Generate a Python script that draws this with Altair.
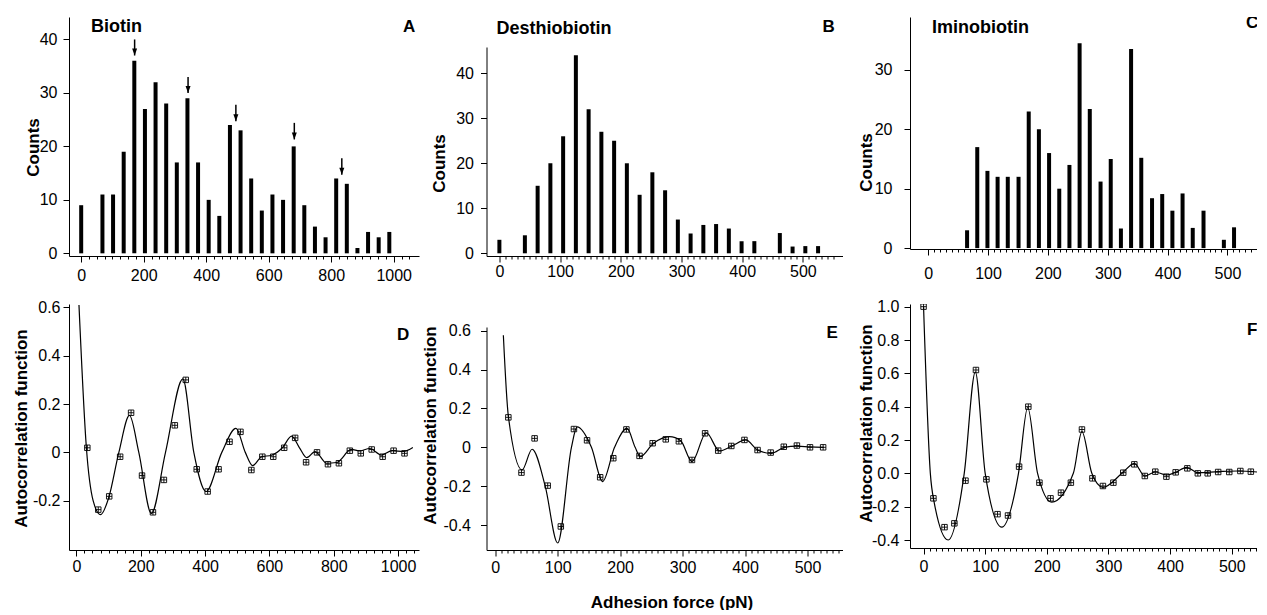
import altair as alt
import pandas as pd

FONT = "Liberation Sans"

# ---------------- text ----------------
panel_titles = ["Biotin", "Desthiobiotin", "Iminobiotin"]
panel_letters = ["A", "B", "C", "D", "E", "F"]
y_title_hist = "Counts"
y_title_acf = "Autocorrelation function"
x_title = "Adhesion force (pN)"

# ---------------- tick values ----------------
ticks_1000 = [0, 200, 400, 600, 800, 1000]
ticks_500 = [0, 100, 200, 300, 400, 500]
ticks_counts_40 = [0, 10, 20, 30, 40]
ticks_counts_30 = [0, 10, 20, 30]
ticks_acf_d = [-0.2, 0.0, 0.2, 0.4, 0.6]
ticks_acf_e = [-0.4, -0.2, 0.0, 0.2, 0.4, 0.6]
ticks_acf_f = [-0.4, -0.2, 0.0, 0.2, 0.4, 0.6, 0.8, 1.0]

# ---------------- histograms ----------------
biotin_force = [0, 68, 102, 136, 170, 204, 238, 272, 306, 340, 374, 408, 442, 476, 510,
                544, 578, 612, 646, 680, 714, 748, 782, 816, 850, 884, 918, 952, 986]
biotin_counts = [9, 11, 11, 19, 36, 27, 32, 28, 17, 29, 17, 10, 7, 24, 23,
                 14, 8, 11, 10, 20, 9, 5, 3, 14, 13, 1, 4, 3, 4]

arrow_force = [171, 342, 495, 682, 834]
arrow_tip = [37.0, 30.0, 24.7, 21.3, 14.7]
arrow_tail = [40.0, 33.0, 27.8, 24.4, 17.8]

desthio_force = [0, 42, 63, 84, 105, 126, 147, 168, 189, 210, 231, 252, 273, 294, 315,
                 336, 357, 378, 399, 420, 462, 483, 504, 525]
desthio_counts = [3, 4, 15, 20, 26, 44, 32, 27, 25, 20, 13, 18, 14, 7.5, 4.4,
                  6.3, 6.5, 5.5, 2.7, 2.7, 4.5, 1.5, 1.6, 1.6]

imino_force = [65, 82, 99, 116, 133, 151, 168, 185, 202, 219, 236, 253, 270, 288, 305,
               322, 339, 356, 374, 391, 408, 425, 442, 460, 494, 511]
imino_counts = [3, 17, 13, 12, 12, 12, 23, 20, 16, 10, 14, 34.5, 23.4, 11.2, 15,
                3.3, 33.5, 15.2, 8.4, 9.1, 6.3, 9.2, 3.4, 6.3, 1.4, 3.5]

# ---------------- autocorrelation points ----------------
acf_b_lag = [34, 68, 102, 136, 170, 204, 238, 272, 306, 340, 374, 408, 442, 476, 510,
             544, 578, 612, 646, 680, 714, 748, 782, 816, 850, 884, 918, 952, 986, 1020]
acf_b_val = [0.019, -0.237, -0.182, -0.018, 0.164, -0.096, -0.248, -0.114, 0.112, 0.30,
             -0.07, -0.162, -0.07, 0.044, 0.085, -0.073, -0.018, -0.018, 0.019, 0.06,
             -0.041, 0.0, -0.049, -0.045, 0.007, -0.004, 0.012, -0.018, 0.007, -0.004]

acf_d_lag = [21, 42, 63, 84, 105, 126, 147, 168, 189, 210, 231, 252, 273, 294, 315,
             336, 357, 378, 399, 420, 441, 462, 483, 504, 525]
acf_d_val = [0.154, -0.13, 0.046, -0.197, -0.407, 0.094, 0.036, -0.154, -0.056, 0.092,
             -0.044, 0.021, 0.041, 0.031, -0.065, 0.072, -0.017, 0.007, 0.038, -0.014,
             -0.027, 0.003, 0.009, 0.0, 0.0]

acf_i_lag = [0, 16, 34, 50, 68, 85, 102, 120, 137, 155, 170, 188, 206, 223, 239, 257,
             274, 291, 308, 324, 342, 359, 376, 394, 409, 428, 445, 461, 478, 496, 514, 531, 548]
acf_i_val = [1.0, -0.15, -0.323, -0.30, -0.044, 0.62, -0.036, -0.245, -0.253, 0.04, 0.40,
             -0.056, -0.15, -0.116, -0.056, 0.263, -0.03, -0.076, -0.056, 0.004, 0.054,
             -0.016, 0.01, -0.02, 0.006, 0.03, 0.0, 0.0, 0.008, 0.008, 0.014, 0.01, 0.0]

# ---------------- fitted curves ----------------
fit_b_x = [8, 31, 52, 75, 100, 132, 165, 194, 233, 277, 331, 365, 403, 452, 496, 525, 548,
           576, 607, 641, 669, 693, 716, 742, 778, 809, 855, 879, 912, 948, 982, 1017, 1046]
fit_b_y = [0.61, 0.02, -0.20, -0.258, -0.19, 0.0, 0.153, 0.0, -0.253, 0.0, 0.304, 0.0,
           -0.162, 0.0, 0.099, 0.0, -0.055, -0.018, -0.012, 0.02, 0.067, 0.02, -0.022,
           0.003, -0.045, -0.042, 0.012, 0.006, 0.016, -0.011, 0.007, 0.004, 0.02]

fit_d_x = [13, 21, 43, 59, 80, 100, 122, 131, 154, 172, 191, 211, 224, 232, 253, 279, 297,
           315, 338, 359, 379, 401, 420, 442, 463, 483, 504, 526]
fit_d_y = [0.576, 0.16, -0.116, -0.01, -0.2, -0.492, 0.0, 0.105, 0.0, -0.176, 0.0, 0.097,
           0.0, -0.048, 0.02, 0.055, 0.034, -0.073, 0.075, -0.019, 0.007, 0.038, -0.014,
           -0.031, 0.0, 0.006, 0.002, 0.0]

fit_i_x = [0, 11, 17, 40, 66, 84, 100, 127, 154, 169, 185, 208, 243, 257, 273, 291, 322,
           342, 359, 376, 394, 409, 427, 445, 478, 510, 541]
fit_i_y = [1.0, 0.0, -0.17, -0.40, 0.0, 0.608, 0.0, -0.323, 0.0, 0.395, 0.0, -0.173, 0.0,
           0.25, 0.0, -0.084, 0.0, 0.06, -0.016, 0.008, -0.01, 0.006, 0.036, 0.004, 0.01,
           0.014, 0.008]

SQUARE_CROSS = "M-1,-1L1,-1L1,1L-1,1Z M0,-1L0,1 M-1,0L1,0"
ARROW_HEAD = "M-1,-2.8L1,-2.8L0,0Z"
MINUS_FIX = "replace(format(datum.value, '.1f'), '\u2212', '-')"


def x_axis(major_ticks, minor_step, upper, pad, **extra):
    step = major_ticks[1] - major_ticks[0]
    vals = list(range(0, upper + 1, minor_step))
    kw = dict(
        values=vals,
        format="d",
        labelExpr=f"datum.value % {step} === 0 ? datum.label : ''",
        tickSize={"condition": {"test": f"datum.value % {step} === 0", "value": 6}, "value": 3},
        labelPadding=pad,
        labelOverlap=False,
        labelFlush=False,
    )
    kw.update(extra)
    if "title" not in kw:
        kw["title"] = None
    return alt.Axis(**kw)


def y_axis(vals, pad, title, tx, ty, expr=None, dash=None):
    kw = dict(values=vals, labelPadding=pad, tickSize=6, title=title, titleX=tx, titleY=ty,
              titleAngle=270, titleAlign="center", titleBaseline="alphabetic",
              labelOverlap=False, labelFlush=False)
    if expr:
        kw["labelExpr"] = expr
    if dash:
        kw["domainDash"] = dash
    return alt.Axis(**kw)


def text_layer(text, x, y, size=17, clip=False):
    return alt.Chart(pd.DataFrame({"t": [text]})).mark_text(
        align="left", baseline="alphabetic", font=FONT, fontSize=size,
        fontWeight="bold", color="black", clip=clip
    ).encode(text="t:N", x=alt.value(x), y=alt.value(y))


def hist_panel(force, counts, xdom, ydom, xax, yax, w, h, texts, extra=()):
    df = pd.DataFrame({"force": force, "counts": counts})
    xs = alt.Scale(domain=xdom, nice=False, zero=False)
    ys = alt.Scale(domain=ydom, nice=False, zero=False)
    bars = alt.Chart(df).mark_bar(color="black", size=4).encode(
        x=alt.X("force:Q", scale=xs, axis=xax),
        y=alt.Y("counts:Q", scale=ys, axis=yax, stack=None),
    )
    layers = [bars] + [e(xs, ys, xax, yax) for e in extra] + texts
    return alt.layer(*layers).properties(width=w, height=h)


def acf_panel(lag, val, fx, fy, xdom, ydom, xax, yax, w, h, texts):
    xs = alt.Scale(domain=xdom, nice=False, zero=False)
    ys = alt.Scale(domain=ydom, nice=False, zero=False)
    fit = alt.Chart(pd.DataFrame({"x": fx, "y": fy})).mark_line(
        interpolate="monotone", color="black", strokeWidth=1.2, clip=True
    ).encode(x=alt.X("x:Q", scale=xs, axis=xax), y=alt.Y("y:Q", scale=ys, axis=yax))
    pts = alt.Chart(pd.DataFrame({"x": lag, "y": val})).mark_point(
        shape=SQUARE_CROSS, filled=False, color="black", size=30, strokeWidth=0.9,
        opacity=1, clip=True
    ).encode(x=alt.X("x:Q", scale=xs, axis=xax), y=alt.Y("y:Q", scale=ys, axis=yax))
    return alt.layer(fit, pts, *texts).properties(width=w, height=h)


def arrows(xs, ys, xax, yax):
    adf = pd.DataFrame({"x": arrow_force, "tip": arrow_tip, "tail": arrow_tail})
    return alt.Chart(adf).mark_rule(color="black", strokeWidth=1.5).encode(
        x=alt.X("x:Q", scale=xs, axis=xax), y=alt.Y("tail:Q", scale=ys, axis=yax), y2="tip:Q")


def arrow_heads(xs, ys, xax, yax):
    adf = pd.DataFrame({"x": arrow_force, "tip": arrow_tip})
    return alt.Chart(adf).mark_point(
        shape=ARROW_HEAD, filled=True, color="black", size=25, opacity=1
    ).encode(x=alt.X("x:Q", scale=xs, axis=xax), y=alt.Y("tip:Q", scale=ys, axis=yax))


# ---------------- panels ----------------
W1, W2, W3 = 350, 356, 347
H1, H2 = 239, 246
TS = 18  # panel title size

A = hist_panel(
    biotin_force, biotin_counts, [-23, 1065], [-0.5, 44.2],
    x_axis(ticks_1000, 25, 1050, 5), y_axis(ticks_counts_40, 6, y_title_hist, -31, 130),
    W1, H1,
    [text_layer(panel_titles[0], 22, 15, TS), text_layer(panel_letters[0], 334, 15)],
    extra=(arrows, arrow_heads),
)

B = hist_panel(
    desthio_force, desthio_counts, [-13, 557], [-0.6, 52.5],
    x_axis(ticks_500, 10, 550, 1),
    y_axis(ticks_counts_40, 7, y_title_hist, -42, 146, dash=[209, 1000]),
    W2, H1,
    [text_layer(panel_titles[1], 10, 17, TS), text_layer(panel_letters[1], 336, 15)],
)

C = hist_panel(
    imino_force, imino_counts, [-22, 541], [-0.15, 38.9],
    x_axis(ticks_500, 10, 540, 10), y_axis(ticks_counts_30, 12, y_title_hist, -39, 145),
    W3, 232,
    [text_layer(panel_titles[2], 22, 16, TS), text_layer(panel_letters[2], 336, 11, clip=True)],
)

D = acf_panel(
    acf_b_lag, acf_b_val, fit_b_x, fit_b_y, [-23, 1065], [-0.404, 0.614],
    x_axis(ticks_1000, 25, 1050, 2),
    y_axis(ticks_acf_d, 3, y_title_acf, -43, 124,
           expr="datum.value === 0 ? '0' : " + MINUS_FIX),
    W1, H2,
    [text_layer(panel_letters[3], 328, 36)],
)

E = acf_panel(
    acf_d_lag, acf_d_val, fit_d_x, fit_d_y, [-14, 556], [-0.528, 0.737],
    x_axis(ticks_500, 10, 550, 3, title=x_title, titleX=185, titleY=57, titleAngle=0,
           titleAlign="center", titleBaseline="alphabetic"),
    y_axis(ticks_acf_e, 10, y_title_acf, -51, 121,
           expr="datum.value === 0 ? '0' : " + MINUS_FIX, dash=[223, 1000]),
    W2, H2,
    [text_layer(panel_letters[4], 340, 34)],
)

F = acf_panel(
    acf_i_lag, acf_i_val, fit_i_x, fit_i_y, [-22, 541], [-0.448, 1.016],
    x_axis(ticks_500, 10, 540, 4),
    y_axis(ticks_acf_f, 5, y_title_acf, -39, 119, expr=MINUS_FIX),
    W3, 244,
    [text_layer(panel_letters[5], 337, 31, clip=True)],
)

chart = alt.concat(
    A, B, C, D, E, F, columns=3, spacing={"row": 48, "column": 67.5},
    bounds="flush", align="each",
).properties(
    padding={"left": 3, "top": 9, "right": 0, "bottom": 0}
).configure_view(stroke=None).configure_axis(
    grid=False, domainColor="black", tickColor="black", labelColor="black",
    titleColor="black", labelFont=FONT, titleFont=FONT, labelFontSize=16,
    titleFontSize=17, titleFontWeight="bold", tickWidth=1, domainWidth=1,
)

chart.save("out.html", embed_options={"renderer": "svg", "actions": False})
